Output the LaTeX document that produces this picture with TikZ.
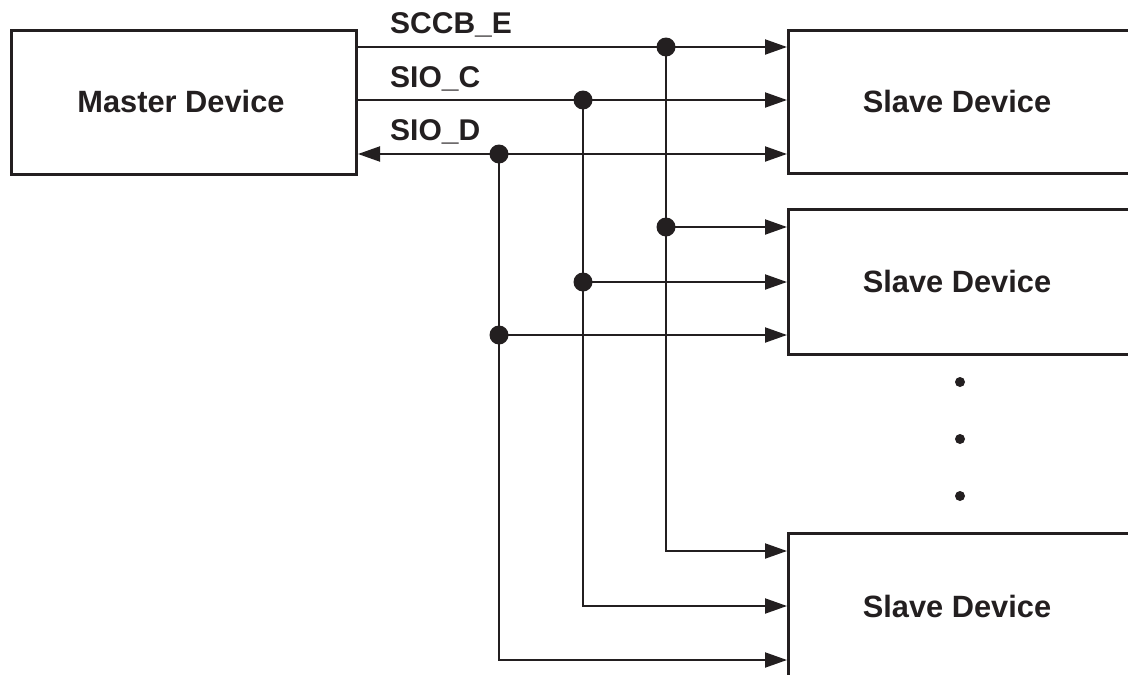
\documentclass[tikz,border=0pt]{standalone}
\usepackage{fontspec}
\setmainfont{Liberation Sans}
\usetikzlibrary{arrows.meta}
\definecolor{ink}{RGB}{35,31,32}
\begin{document}
\begin{tikzpicture}[x=1pt,y=-1pt,
  box/.style={draw=ink, line width=3pt, inner sep=0pt, anchor=north west},
  wire/.style={draw=ink, line width=2pt},
  tip/.style={-{Triangle[length=22pt,width=15pt]}},
  both/.style={{Triangle[length=22pt,width=15pt]}-{Triangle[length=22pt,width=15pt]}},
  jdot/.style={circle, fill=ink, inner sep=0pt, minimum size=19pt},
  sdot/.style={circle, fill=ink, inner sep=0pt, minimum size=10pt},
  lbl/.style={font=\bfseries\fontsize{30}{36}\selectfont, text=ink, inner sep=0pt, anchor=base west},
  dev/.style={font=\bfseries\fontsize{30.8}{36}\selectfont, text=ink, inner sep=0pt, anchor=base}]
\useasboundingbox (0,0) rectangle (1128,675);
\clip (0,0) rectangle (1128,675);
% boxes
\node[box, minimum width=345pt, minimum height=144pt] (m) at (10,29) {};
\node[box, minimum width=400pt, minimum height=143pt] (s1) at (787,29) {};
\node[box, minimum width=400pt, minimum height=145pt] (s2) at (787,208) {};
\node[box, minimum width=400pt, minimum height=200pt] (s3) at (787,532) {};
\node[dev] (mt) at (181,112) {Master Device};
\node[dev] (t1) at (957,112) {Slave Device};
\node[dev] (t2) at (957,292) {Slave Device};
\node[dev] (t3) at (957,617) {Slave Device};
% labels
\node[lbl] (lE) at (390,33.5) {SCCB\_E};
\node[lbl] (lC) at (390,87.5) {SIO\_C};
\node[lbl] (lD) at (390,140.5) {SIO\_D};
% junctions
\node[jdot] (jE1) at (666,47) {};
\node[jdot] (jC1) at (583,100) {};
\node[jdot] (jD1) at (499,154) {};
\node[jdot] (jE2) at (666,227) {};
\node[jdot] (jC2) at (583,282) {};
\node[jdot] (jD2) at (499,335) {};
\coordinate (e3) at (787,551);
\coordinate (c3) at (787,606);
\coordinate (d3) at (787,660);
% main bus
\draw[wire,tip] (m.east |- jE1) -- (s1.west |- jE1);
\draw[wire,tip] (m.east |- jC1) -- (s1.west |- jC1);
\draw[wire,both] (m.east |- jD1) -- (s1.west |- jD1);
% verticals
\draw[wire,tip] (jE1.center) |- (e3);
\draw[wire,tip] (jC1.center) |- (c3);
\draw[wire,tip] (jD1.center) |- (d3);
% branches to second slave
\draw[wire,tip] (jE2.center) -- (s2.west |- jE2);
\draw[wire,tip] (jC2.center) -- (s2.west |- jC2);
\draw[wire,tip] (jD2.center) -- (s2.west |- jD2);
% ellipsis
\node[sdot] (v1) at (960,382) {};
\node[sdot] (v2) at (960,439) {};
\node[sdot] (v3) at (960,496) {};
\end{tikzpicture}
\end{document}
